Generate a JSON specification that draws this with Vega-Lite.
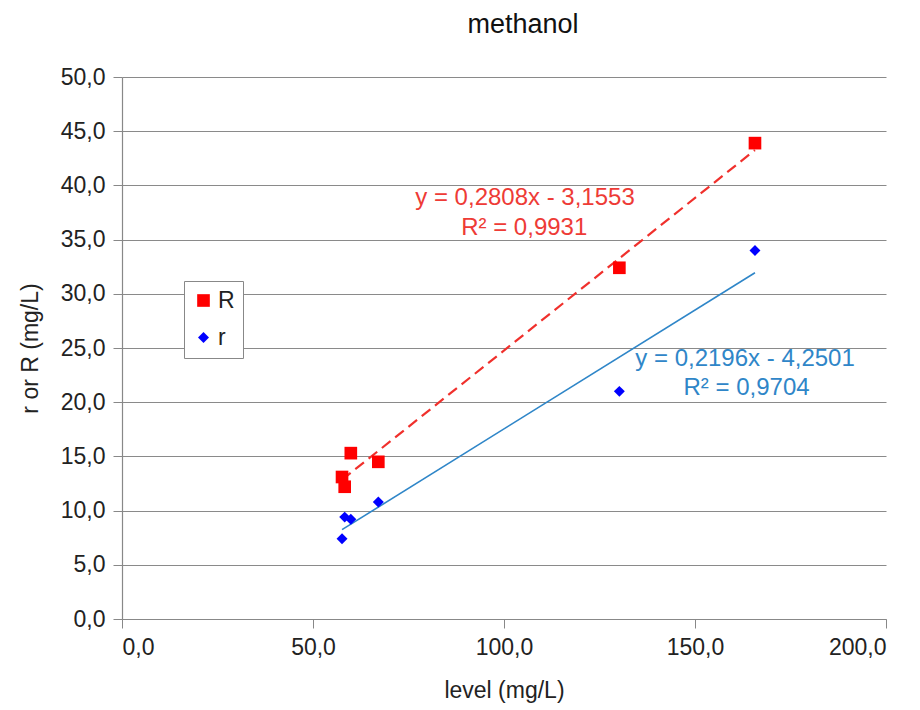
{
  "$schema": "https://vega.github.io/schema/vega-lite/v6.json",
  "autosize": "none",
  "width": 764,
  "height": 542,
  "padding": {"left": 122, "top": 77, "right": 34, "bottom": 91},
  "background": "white",
  "title": {"text": "methanol", "fontSize": 27, "font": "Liberation Sans", "fontWeight": "normal", "color": "#111", "anchor": "middle", "dx": 19, "offset": 27},
  "config": {
    "locale": {"number": {"decimal": ",", "thousands": ".", "grouping": [3], "currency": ["", " €"]}},
    "font": "Liberation Sans",
    "view": {"stroke": null},
    "axis": {
      "labelFont": "Liberation Sans", "labelFontSize": 23, "labelColor": "#222",
      "titleFont": "Liberation Sans", "titleFontSize": 23, "titleFontWeight": "normal", "titleColor": "#222",
      "domainColor": "#888", "tickColor": "#888", "tickSize": 9, "gridColor": "#8a8a8a", "gridWidth": 1, "domainWidth": 1.2
    }
  },
  "datasets": {
    "pts": [
      {"level": 57.6, "series": "R", "value": 13.1},
      {"level": 58.3, "series": "R", "value": 12.2},
      {"level": 59.9, "series": "R", "value": 15.3},
      {"level": 67.1, "series": "R", "value": 14.5},
      {"level": 130.2, "series": "R", "value": 32.4},
      {"level": 165.7, "series": "R", "value": 43.9},
      {"level": 57.6, "series": "r", "value": 7.4},
      {"level": 58.3, "series": "r", "value": 9.4},
      {"level": 59.9, "series": "r", "value": 9.2},
      {"level": 67.1, "series": "r", "value": 10.8},
      {"level": 130.2, "series": "r", "value": 21.0},
      {"level": 165.7, "series": "r", "value": 34.0}
    ],
    "notes": [
      {"level": 105.5, "value": 38.2, "series": "R", "label": "y = 0,2808x - 3,1553"},
      {"level": 105.3, "value": 35.4, "series": "R", "label": "R² = 0,9931"},
      {"level": 163.1, "value": 23.3, "series": "r", "label": "y = 0,2196x - 4,2501"},
      {"level": 163.5, "value": 20.7, "series": "r", "label": "R² = 0,9704"}
    ]
  },
  "layer": [
    {
      "data": {"name": "pts"},
      "transform": [{"filter": "datum.series === 'R'"}, {"regression": "value", "on": "level"}],
      "mark": {"type": "line", "color": "#f0302c", "strokeWidth": 2.2, "strokeDash": [11, 6]},
      "encoding": {
        "x": {"field": "level", "type": "quantitative"},
        "y": {"field": "value", "type": "quantitative"}
      }
    },
    {
      "data": {"name": "pts"},
      "transform": [{"filter": "datum.series === 'r'"}, {"regression": "value", "on": "level"}],
      "mark": {"type": "line", "color": "#2f86c8", "strokeWidth": 1.6},
      "encoding": {
        "x": {"field": "level", "type": "quantitative"},
        "y": {"field": "value", "type": "quantitative"}
      }
    },
    {
      "data": {"name": "pts"},
      "mark": {"type": "point", "filled": true, "opacity": 1},
      "encoding": {
        "x": {"field": "level", "type": "quantitative", "scale": {"domain": [0, 200]},
              "axis": {"values": [0, 50, 100, 150, 200], "format": ".1f", "grid": false, "title": "level (mg/L)", "labelPadding": 8, "titlePadding": 20}},
        "y": {"field": "value", "type": "quantitative", "scale": {"domain": [0, 50]},
              "axis": {"values": [0, 5, 10, 15, 20, 25, 30, 35, 40, 45, 50], "format": ".1f", "grid": true, "title": "r or R (mg/L)", "labelPadding": 8, "titlePadding": 18}},
        "color": {"field": "series", "type": "nominal",
                  "scale": {"domain": ["R", "r"], "range": ["#ff0000", "#0000ff"]},
                  "legend": {"orient": "none", "legendX": 62, "legendY": 204, "title": null,
                             "strokeColor": "#888", "fillColor": "white", "padding": 8,
                             "labelFontSize": 23, "labelColor": "#222", "labelFont": "Liberation Sans",
                             "symbolSize": 90, "rowPadding": 13, "labelOffset": 3, "symbolOffset": 0}},
        "shape": {"field": "series", "type": "nominal",
                  "scale": {"domain": ["R", "r"], "range": ["square", "diamond"]}},
        "size": {"field": "series", "type": "nominal",
                 "scale": {"domain": ["R", "r"], "range": [160, 120]}, "legend": null}
      }
    },
    {
      "data": {"name": "notes"},
      "transform": [{"filter": "datum.series === 'R'"}],
      "mark": {"type": "text", "fontSize": 24, "font": "Liberation Sans", "align": "center", "baseline": "alphabetic", "color": "#ee3b36"},
      "encoding": {
        "x": {"field": "level", "type": "quantitative"},
        "y": {"field": "value", "type": "quantitative"},
        "text": {"field": "label"}
      }
    },
    {
      "data": {"name": "notes"},
      "transform": [{"filter": "datum.series === 'r'"}],
      "mark": {"type": "text", "fontSize": 24, "font": "Liberation Sans", "align": "center", "baseline": "alphabetic", "color": "#2f86c8"},
      "encoding": {
        "x": {"field": "level", "type": "quantitative"},
        "y": {"field": "value", "type": "quantitative"},
        "text": {"field": "label"}
      }
    }
  ]
}
